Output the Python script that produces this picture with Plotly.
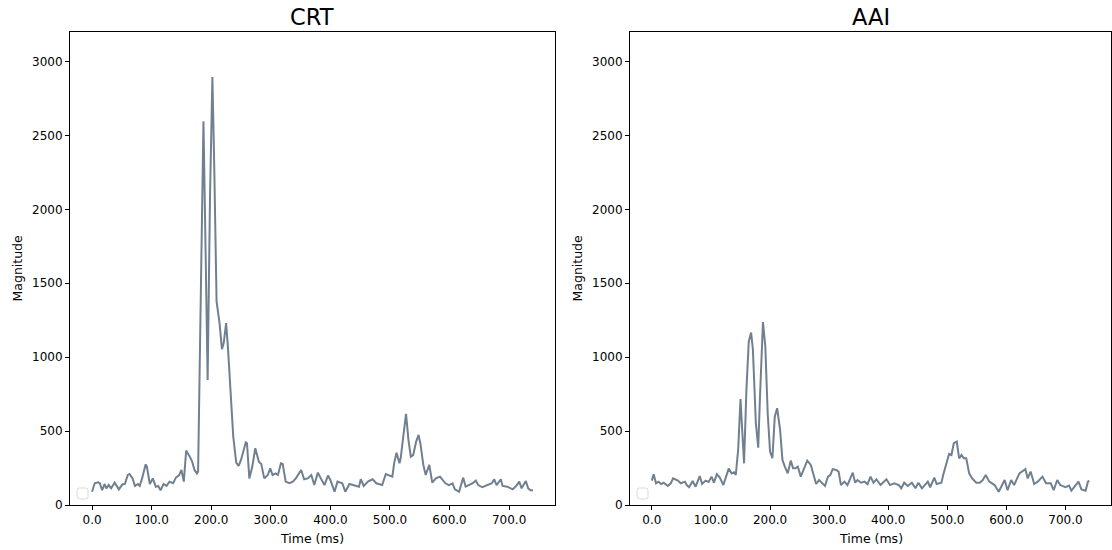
import plotly.graph_objects as go

# ---------------- data ----------------
crt_time = [0, 4.5, 10, 13, 17, 21, 24, 28, 32, 38, 45, 51, 55, 60, 63, 68, 72, 77, 80, 84,
            90, 92, 97, 102, 107, 111, 115, 120, 125, 130, 136, 141, 146, 150, 154, 158, 164,
            168, 172, 176, 178, 182, 187, 190, 194, 198, 202, 205, 209, 214, 218, 221, 225,
            228, 234, 237, 242, 246, 250, 258, 260, 264, 269, 274, 280, 284, 289, 295, 299,
            303, 308, 312, 317, 320, 325, 331, 337, 342, 351, 356, 362, 368, 373, 379, 384,
            390, 396, 400, 407, 412, 420, 425, 432, 440, 448, 451, 456, 463, 471, 477, 487,
            493, 499, 504, 507, 511, 516, 518, 523, 527, 531, 535, 539, 544, 548, 551, 556,
            560, 566, 571, 577, 584, 593, 599, 605, 609, 616, 623, 627, 634, 639, 644, 648,
            655, 664, 671, 675, 679, 686, 689, 697, 706, 712, 717, 721, 728, 732, 736, 740]
crt_mag = [90, 147, 153, 147, 100, 142, 113, 135, 113, 151, 106, 140, 142, 203, 210, 180, 129,
           142, 129, 180, 275, 260, 142, 180, 124, 129, 100, 142, 129, 158, 147, 187, 200, 237,
           158, 368, 327, 293, 237, 214, 226, 1185, 2596, 1862, 846, 2088, 2896, 2314, 1377,
           1230, 1054, 1095, 1230, 1072, 688, 463, 287, 264, 305, 424, 418, 180, 260, 384, 293,
           278, 180, 203, 248, 203, 214, 203, 282, 278, 158, 147, 158, 180, 237, 174, 180, 203,
           135, 219, 180, 135, 199, 169, 90, 158, 147, 90, 142, 135, 124, 174, 129, 158, 174,
           147, 135, 210, 203, 192, 282, 354, 282, 316, 485, 616, 440, 327, 338, 429, 474, 418,
           271, 203, 271, 151, 180, 192, 147, 135, 147, 106, 90, 185, 124, 135, 147, 165, 135,
           120, 135, 147, 174, 135, 174, 129, 124, 106, 129, 158, 113, 162, 113, 100, 100]

aai_time = [0, 3, 7, 11, 16, 20, 27, 32, 36, 44, 49, 56, 59, 63, 69, 74, 81, 85, 91, 96, 101,
            105, 110, 115, 121, 126, 130, 135, 139, 142, 146, 150, 153, 156, 160, 164, 168,
            171, 176, 180, 183, 188, 192, 196, 200, 204, 208, 212, 217, 221, 225, 230, 235,
            239, 243, 247, 252, 257, 263, 269, 274, 278, 283, 288, 293, 298, 302, 306, 312,
            316, 320, 326, 331, 340, 344, 348, 354, 360, 365, 370, 375, 380, 387, 397, 403,
            410, 418, 422, 427, 433, 440, 446, 451, 457, 467, 471, 478, 482, 490, 493, 499,
            503, 507, 511, 516, 520, 524, 528, 532, 537, 542, 549, 555, 560, 565, 571, 580,
            587, 597, 602, 608, 613, 622, 627, 632, 636, 641, 647, 653, 661, 667, 675, 680,
            686, 691, 700, 706, 710, 716, 722, 727, 734, 738, 740]
aai_mag = [165, 208, 147, 158, 142, 151, 129, 147, 180, 165, 147, 158, 135, 120, 162, 124, 196,
           142, 165, 156, 192, 151, 208, 185, 135, 203, 246, 214, 221, 203, 372, 716, 508, 282,
           779, 1106, 1167, 1050, 553, 388, 734, 1237, 1072, 621, 361, 316, 598, 655, 508, 305,
           260, 214, 300, 248, 248, 260, 192, 237, 300, 271, 192, 142, 169, 147, 129, 192, 203,
           242, 237, 226, 135, 158, 135, 219, 151, 169, 151, 158, 142, 192, 151, 174, 135, 174,
           135, 147, 135, 113, 151, 129, 151, 113, 151, 113, 158, 120, 185, 142, 151, 203, 282,
           345, 338, 418, 429, 316, 338, 316, 316, 214, 180, 151, 151, 169, 203, 158, 135, 90,
           169, 100, 169, 135, 214, 226, 242, 180, 226, 142, 158, 192, 147, 147, 100, 169, 135,
           120, 131, 97, 129, 158, 106, 97, 158, 165]

panel_titles = ["CRT", "AAI"]
x_ticks = [0, 100, 200, 300, 400, 500, 600, 700]
x_tick_labels = ["0.0", "100.0", "200.0", "300.0", "400.0", "500.0", "600.0", "700.0"]
y_ticks = [0, 500, 1000, 1500, 2000, 2500, 3000]

# ---------------- layout geometry ----------------
W, H = 1112, 550
LINE_COLOR = "#708090"
FONT = "DejaVu Sans"

x_domains = [[70 / W, 555 / W], [630 / W, 1111 / W]]
y_domain = [1 - 505 / H, 1 - 32 / H]

fig = go.Figure()
fig.add_trace(go.Scatter(x=crt_time, y=crt_mag, mode="lines",
                         line=dict(color=LINE_COLOR, width=2),
                         xaxis="x", yaxis="y", showlegend=False))
fig.add_trace(go.Scatter(x=aai_time, y=aai_mag, mode="lines",
                         line=dict(color=LINE_COLOR, width=2),
                         xaxis="x2", yaxis="y2", showlegend=False))

axis_common = dict(showline=True, linecolor="black", linewidth=1, mirror=True,
                   ticks="outside", ticklen=4, tickwidth=1, tickcolor="black",
                   showgrid=False, zeroline=False, automargin=False,
                   tickfont=dict(family=FONT, size=12, color="black"))

layout = dict(
    width=W, height=H,
    margin=dict(l=0, r=0, t=0, b=0, autoexpand=False),
    paper_bgcolor="white", plot_bgcolor="white",
    font=dict(family=FONT, color="black"),
    showlegend=False,
)
for i in range(2):
    sx = "" if i == 0 else "2"
    layout["xaxis" + sx] = dict(axis_common, domain=x_domains[i], range=[-37, 777],
                                tickvals=x_ticks, ticktext=x_tick_labels,
                                anchor="y" + sx)
    layout["yaxis" + sx] = dict(axis_common, domain=y_domain, range=[0, 3200],
                                tickvals=y_ticks, anchor="x" + sx)
fig.update_layout(**layout)

annotations = []
shapes = []


def px(v):
    return v / W


def py(v):
    return 1 - v / H


for i in range(2):
    x0, x1 = x_domains[i]
    xc = (x0 + x1) / 2
    annotations.append(dict(text=panel_titles[i], x=xc, y=py(17), xref="paper", yref="paper",
                            xanchor="center", yanchor="middle", showarrow=False,
                            font=dict(family=FONT, size=22.5, color="black")))
    annotations.append(dict(text="Time (ms)", x=xc, y=py(538), xref="paper", yref="paper",
                            xanchor="center", yanchor="middle", showarrow=False,
                            font=dict(family=FONT, size=12.5, color="black")))
    annotations.append(dict(text="Magnitude", x=px(x0 * W - 53), y=(y_domain[0] + y_domain[1]) / 2,
                            xref="paper", yref="paper", textangle=-90,
                            xanchor="center", yanchor="middle", showarrow=False,
                            font=dict(family=FONT, size=12.5, color="black")))
    # empty legend frame (rounded box) in the lower-left corner
    bx0 = x0 * W + 7
    bx1 = bx0 + 11
    by0, by1 = 488, 499
    r = 2.5
    path = (f"M {px(bx0 + r)},{py(by0)} L {px(bx1 - r)},{py(by0)} "
            f"Q {px(bx1)},{py(by0)} {px(bx1)},{py(by0 + r)} "
            f"L {px(bx1)},{py(by1 - r)} Q {px(bx1)},{py(by1)} {px(bx1 - r)},{py(by1)} "
            f"L {px(bx0 + r)},{py(by1)} Q {px(bx0)},{py(by1)} {px(bx0)},{py(by1 - r)} "
            f"L {px(bx0)},{py(by0 + r)} Q {px(bx0)},{py(by0)} {px(bx0 + r)},{py(by0)} Z")
    shapes.append(dict(type="path", path=path, xref="paper", yref="paper",
                       line=dict(color="#d9d9d9", width=1), fillcolor="rgba(255,255,255,0.8)"))

fig.update_layout(annotations=annotations, shapes=shapes)
fig.write_html("out.html", config={"displayModeBar": False},
               post_script="document.body.style.margin='0';")
